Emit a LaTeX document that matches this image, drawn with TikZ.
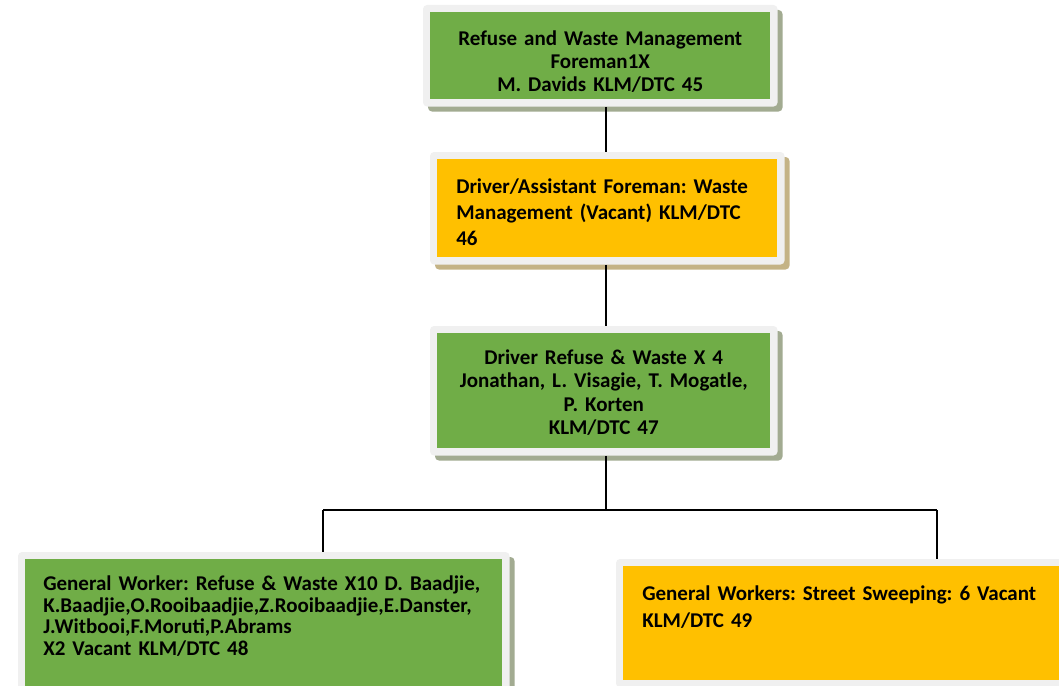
\documentclass[tikz,border=0pt]{standalone}
\usepackage{fontspec}
\setmainfont{Carlito}
\usetikzlibrary{positioning,fit,backgrounds,shadows}
\definecolor{BoxGreen}{HTML}{70AD47}
\definecolor{BoxGold}{HTML}{FFC000}
\definecolor{FrameGrey}{HTML}{F0F0F0}
\definecolor{ShadeGreen}{HTML}{A2AB91}
\definecolor{ShadeGold}{HTML}{C4B386}
\frenchspacing
\hyphenpenalty=10000

\begin{document}
\begin{tikzpicture}[x=0.75pt,y=-0.75pt,
  box/.style={anchor=north west,inner ysep=0pt,
    font=\bfseries\fontsize{15.75}{17.4}\selectfont},
  bgreen/.style={box,fill=BoxGreen},
  bgold/.style={box,fill=BoxGold},
  frame/.style={fill=FrameGrey,rounded corners=3pt,inner sep=5.25pt},
  link/.style={draw=black,line width=1pt}
]
\useasboundingbox (0,0) rectangle (1059,685);
% boxes, placed at their top left corners
\node[bgreen,align=center,inner xsep=7.5pt,text width=240pt,
      text height=24.75pt,text depth=40.5pt] (bx1) at (430,12)
  {Refuse and Waste Management\\Foreman1X\\M. Davids KLM/DTC 45};
\node[bgold,align=left,inner xsep=14.25pt,text width=226.5pt,
      text height=25.5pt,text depth=48pt,
      font=\bfseries\fontsize{15.75}{19.5}\selectfont] (bx2) at (437,159)
  {Driver/Assistant Foreman: Waste\\Management (Vacant) KLM/DTC\\46};
\node[bgreen,align=center,inner xsep=7.5pt,text width=234.75pt,
      text height=23.25pt,text depth=63pt,
      font=\bfseries\fontsize{15.75}{17.6}\selectfont] (bx3) at (437,333)
  {Driver Refuse \& Waste X 4\\Jonathan, L. Visagie, T. Mogatle,\\
   P. Korten\\KLM/DTC 47};
\node[bgreen,align=left,inner xsep=13.5pt,text width=330.75pt,
      text height=23.25pt,text depth=75pt,
      font=\bfseries\fontsize{15.75}{16.3}\selectfont] (bx4) at (25,559)
  {General Worker: Refuse \& Waste X10 D. Baadjie,\\
   K.Baadjie,O.Rooibaadjie,Z.Rooibaadjie,E.Danster,\\
   J.Witbooi,F.Moruti,P.Abrams\\X2 Vacant KLM/DTC 48};
\node[bgold,align=left,inner xsep=14.25pt,text width=310pt,
      text height=25.5pt,text depth=60pt,
      font=\bfseries\fontsize{15.75}{20.25}\selectfont] (bx5) at (623,566)
  {General Workers: Street Sweeping: 6 Vacant\\KLM/DTC 49};
% white frames with coloured shadow
\begin{scope}[on background layer]
  \foreach \i/\s in {1/ShadeGreen,2/ShadeGold,3/ShadeGreen,4/ShadeGreen,5/ShadeGold}
    \node[frame,drop shadow={shadow xshift=3.75pt,shadow yshift=-3.75pt,
      fill=\s,opacity=1},fit=(bx\i)] (fr\i) {};
\end{scope}
% connectors
\coordinate (trunk) at (606,510);
\coordinate (dl) at (323,510);
\coordinate (dr) at (937,510);
\draw[link] (trunk |- fr1.south) -- (trunk |- fr2.north);
\draw[link] (trunk |- fr2.south) -- (trunk |- fr3.north);
\draw[link] (trunk |- fr3.south) -- (trunk);
\draw[link] (dl) -- (dr);
\draw[link] (dl) -- (dl |- fr4.north);
\draw[link] (dr) -- (dr |- fr5.north);
\end{tikzpicture}
\end{document}
